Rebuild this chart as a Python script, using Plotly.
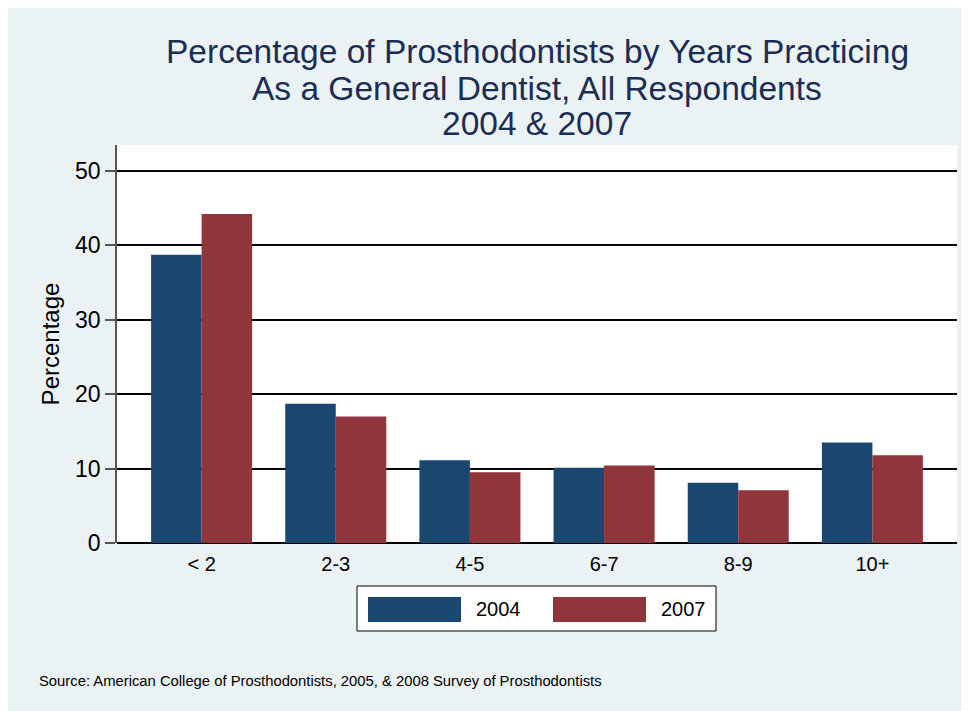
import plotly.graph_objects as go

# ---- data ----
categories = ["< 2", "2-3", "4-5", "6-7", "8-9", "10+"]
pct_2004 = [38.7, 18.7, 11.1, 10.1, 8.1, 13.5]
pct_2007 = [44.2, 17.0, 9.5, 10.4, 7.1, 11.8]
series_names = ["2004", "2007"]
series_colors = ["#1A476F", "#90353B"]
y_ticks = [0, 10, 20, 30, 40, 50]
title_lines = [
    "Percentage of Prosthodontists by Years Practicing",
    "As a General Dentist, All Respondents",
    "2004 & 2007",
]
y_title = "Percentage"
source_text = "Source: American College of Prosthodontists, 2005, & 2008 Survey of Prosthodontists"

FONT = "Arial, Liberation Sans, Helvetica, sans-serif"
BG = "#EAF2F3"

# page offset (body margin) of the screenshot
OFF = 8
W, H = 969 - OFF, 711 - OFF
L, T = 117 - OFF, 145 - OFF
R = W - (957 - OFF)
B = H - (543 - OFF)
PW, PH = W - L - R, H - T - B


def px(x):
    """screen x (reference pixels) -> paper x"""
    return (x - OFF - L) / PW


def py(y):
    """screen y (reference pixels) -> paper y"""
    return (H - B - (y - OFF)) / PH


fig = go.Figure()
for name, vals, col in zip(series_names, [pct_2004, pct_2007], series_colors):
    fig.add_trace(go.Bar(
        x=categories, y=vals, name=name,
        marker=dict(color=col, line=dict(width=0)),
        showlegend=False,
    ))

annotations = []
title_y = [52, 88, 123]
for line, yy in zip(title_lines, title_y):
    annotations.append(dict(
        text=line, xref="paper", yref="paper", x=0.5, y=py(yy),
        xanchor="center", yanchor="middle", showarrow=False,
        font=dict(family=FONT, size=33.5, color="#1C2D55"),
    ))

# legend texts
legend_text_x = [474, 659]
for name, lx in zip(series_names, legend_text_x):
    annotations.append(dict(
        text=name, xref="paper", yref="paper", x=px(lx), y=py(609),
        xanchor="left", yanchor="middle", showarrow=False,
        font=dict(family=FONT, size=20, color="#000000"),
    ))

annotations.append(dict(
    text=source_text, xref="paper", yref="paper", x=px(37), y=py(681),
    xanchor="left", yanchor="middle", showarrow=False,
    font=dict(family=FONT, size=14.8, color="#000000"),
))

shapes = [
    # legend box
    dict(type="rect", xref="paper", yref="paper", x0=px(357), x1=px(716), y0=py(631), y1=py(586),
         fillcolor="white", line=dict(color="#000000", width=1)),
]
swatch_x = [(368, 461), (553, 646)]
for (x0, x1), col in zip(swatch_x, series_colors):
    shapes.append(dict(type="rect", xref="paper", yref="paper", x0=px(x0), x1=px(x1),
                       y0=py(622), y1=py(597), fillcolor=col, line=dict(width=0)))

fig.update_layout(
    width=W, height=H,
    margin=dict(l=L, r=R, t=T, b=B, pad=0),
    paper_bgcolor=BG, plot_bgcolor="white",
    barmode="group", bargap=0.247, bargroupgap=0,
    font=dict(family=FONT, color="#000000"),
    annotations=annotations, shapes=shapes,
    xaxis=dict(
        type="category", range=[-0.6306, 5.6306],
        showgrid=False, zeroline=False, showline=False,
        ticks="outside", ticklen=3, tickcolor="rgba(0,0,0,0)",
        tickfont=dict(family=FONT, size=20, color="#000000"),
        fixedrange=True,
    ),
    yaxis=dict(
        range=[0, 53.45], tickvals=y_ticks,
        showgrid=True, gridcolor="#000000", gridwidth=2,
        zeroline=True, zerolinecolor="#000000", zerolinewidth=2,
        showline=True, linecolor="#555555", linewidth=1.5,
        ticks="outside", ticklen=10, tickcolor="#555555", tickwidth=1.5,
        tickfont=dict(family=FONT, size=23, color="#000000"),
        title=dict(text=y_title, font=dict(family=FONT, size=24, color="#000000"), standoff=9),
        fixedrange=True,
    ),
)

fig.write_html("out.html")
